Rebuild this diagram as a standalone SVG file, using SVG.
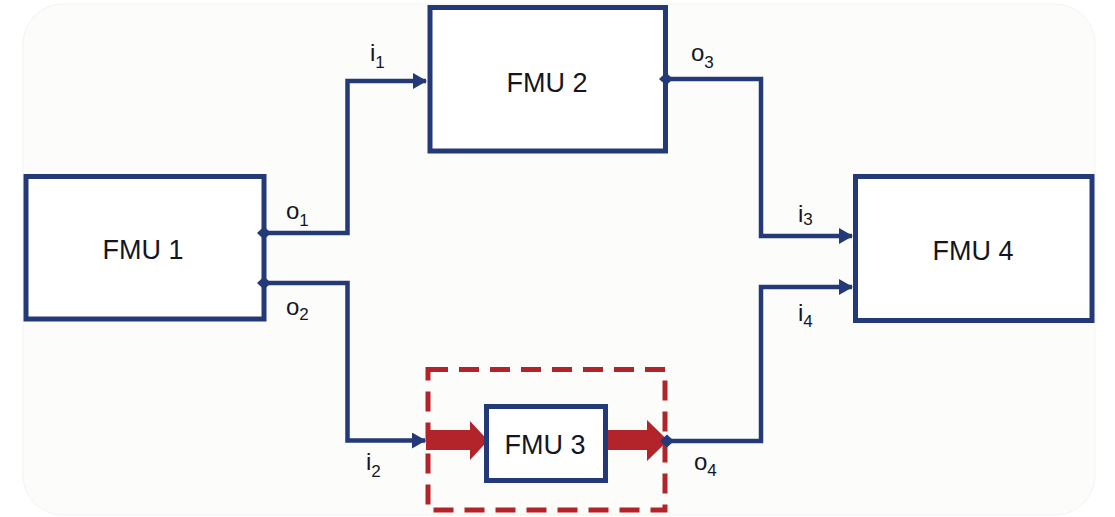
<svg xmlns="http://www.w3.org/2000/svg" width="1115" height="517" viewBox="0 0 1115 517">
  <defs>
    <style>
      .box { fill: #ffffff; stroke: #243a78; stroke-width: 5; }
      .wire { fill: none; stroke: #243a78; stroke-width: 4.5; stroke-linejoin: miter; }
      .name { font-family: "Liberation Sans", Arial, sans-serif; font-size: 27px; fill: #14161f; text-anchor: middle; }
      .lbl { font-family: "Liberation Sans", Arial, sans-serif; font-size: 24px; fill: #14161f; }
      .sub { font-size: 17px; }
      .dot { fill: #243a78; }
      .red { fill: #b3232a; }
    </style>
    <marker id="ah" viewBox="0 0 14 16" refX="13" refY="8" markerWidth="14" markerHeight="16" markerUnits="userSpaceOnUse" orient="auto">
      <path d="M0,0 L14,8 L0,16 Z" fill="#243a78"/>
    </marker>
  </defs>

  <rect x="0" y="0" width="1115" height="517" fill="#ffffff"/>
  <rect x="23" y="4" width="1072" height="511" rx="40" ry="40" fill="#fcfcfa" stroke="#f3f3f0" stroke-width="1"/>

  <g id="fmu1">
    <rect class="box" x="26" y="176.5" width="238" height="142.5"/>
    <text class="name" x="143" y="259">FMU 1</text>
  </g>

  <g id="fmu2">
    <rect class="box" x="430" y="7.5" width="235.5" height="143.5"/>
    <text class="name" x="547" y="92">FMU 2</text>
  </g>

  <g id="fmu4">
    <rect class="box" x="855.5" y="176.5" width="236.5" height="144"/>
    <text class="name" x="973" y="260">FMU 4</text>
  </g>

  <g id="highlight">
    <rect x="428" y="369.5" width="237" height="140.5" fill="none" stroke="#b3232a" stroke-width="5" stroke-dasharray="20 11"/>
    <path class="red" d="M426,430 H470 V421 L488,440.5 L470,460 V450 H426 Z"/>
    <path class="red" d="M606,430 H647 V420 L668,440.5 L647,461 V450 H606 Z"/>
  </g>

  <g id="fmu3">
    <rect class="box" x="486.5" y="406.5" width="119" height="74"/>
    <text class="name" x="545" y="454">FMU 3</text>
  </g>

  <g id="connectors">
    <path class="wire" d="M264,233 H347.5 V81 H426" marker-end="url(#ah)"/>
    <path class="wire" d="M264,283 H347.5 V440.5 H425" marker-end="url(#ah)"/>
    <path class="wire" d="M666,79 H761 V236 H852" marker-end="url(#ah)"/>
    <path class="wire" d="M667,441 H761 V287 H852" marker-end="url(#ah)"/>
    <path class="dot" d="M257,233 L264,226.5 L271,233 L264,239.5 Z"/>
    <path class="dot" d="M257,283 L264,276.5 L271,283 L264,289.5 Z"/>
    <path class="dot" d="M659,79 L666,72.5 L673,79 L666,85.5 Z"/>
    <path class="dot" d="M660,441 L667,434.5 L674,441 L667,447.5 Z"/>
  </g>

  <g id="labels">
    <text class="lbl" x="286" y="219">o<tspan class="sub" dy="7">1</tspan></text>
    <text class="lbl" x="286" y="315">o<tspan class="sub" dy="5">2</tspan></text>
    <text class="lbl" x="370" y="61">i<tspan class="sub" dy="7">1</tspan></text>
    <text class="lbl" x="691" y="61">o<tspan class="sub" dy="7">3</tspan></text>
    <text class="lbl" x="798" y="222">i<tspan class="sub" dy="3">3</tspan></text>
    <text class="lbl" x="798" y="321">i<tspan class="sub" dy="6">4</tspan></text>
    <text class="lbl" x="366" y="470">i<tspan class="sub" dy="7">2</tspan></text>
    <text class="lbl" x="694" y="470">o<tspan class="sub" dy="6">4</tspan></text>
  </g>
</svg>
